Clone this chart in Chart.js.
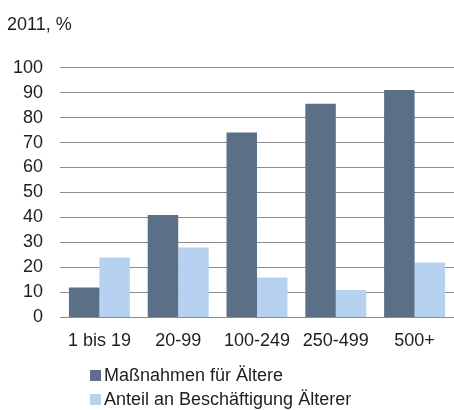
<!DOCTYPE html>
<html>
<head>
<meta charset="utf-8">
<script src="https://cdn.jsdelivr.net/npm/chart.js@4/dist/chart.umd.min.js"></script>
<style>
  html, body { margin: 0; padding: 0; background: #fff; }
  #wrap { position: relative; width: 454px; height: 410px; overflow: hidden; }
  #c { position: absolute; left: 0; top: 0; }
  #legend { position: absolute; left: 90px; top: 363px; font-family: 'Liberation Sans', Arial, sans-serif; font-size: 18px; color: #1e1e1e; }
  #legend .item { display: flex; align-items: center; height: 24px; white-space: nowrap; }
  #legend .sw { width: 11px; height: 11px; margin-right: 3px; }
</style>
</head>
<body>
<div id="wrap">
  <canvas id="c" width="454" height="368"></canvas>
  <div id="legend"></div>
</div>
<script>
const categories = ['1 bis 19', '20-99', '100-249', '250-499', '500+'];
const massnahmen = [12, 41, 74, 85.5, 91];
const anteil = [24, 28, 16, 11, 22];
const seriesNames = ['Maßnahmen für Ältere', 'Anteil an Beschäftigung Älterer'];
const seriesColors = ['#5b7086', '#b6d2f0'];
const yMin = 0, yMax = 100, yStep = 10;

Chart.defaults.font.family = "'Liberation Sans', Arial, sans-serif";
Chart.defaults.font.size = 18;
Chart.defaults.color = '#1e1e1e';

const chart = new Chart(document.getElementById('c'), {
  type: 'bar',
  data: {
    labels: categories,
    datasets: [
      { label: seriesNames[0], data: massnahmen, backgroundColor: seriesColors[0] },
      { label: seriesNames[1], data: anteil, backgroundColor: seriesColors[1] }
    ]
  },
  options: {
    responsive: false,
    animation: false,
    layout: { padding: { left: 7, right: 0, top: 0, bottom: 3 } },
    datasets: { bar: { categoryPercentage: 0.774, barPercentage: 1.0, borderWidth: 0 } },
    plugins: {
      legend: { display: false },
      tooltip: { enabled: false },
      title: {
        display: true,
        text: '2011, %',
        align: 'start',
        font: { size: 18, weight: 'normal' },
        color: '#1e1e1e',
        padding: { top: 14, bottom: 32 }
      }
    },
    scales: {
      x: {
        grid: { display: false, drawTicks: false },
        border: { display: true, color: '#8c8c8c', width: 1 },
        ticks: { padding: 13, maxRotation: 0, autoSkip: false }
      },
      y: {
        min: yMin,
        max: yMax,
        afterFit: (scale) => { scale.width = 53; },
        grid: { color: '#8c8c8c', lineWidth: 1, drawTicks: false },
        border: { display: false },
        ticks: { stepSize: yStep, padding: 17, autoSkip: false }
      }
    }
  }
});

// legend built from the chart's datasets, stacked vertically
const legendEl = document.getElementById('legend');
chart.data.datasets.forEach(ds => {
  const row = document.createElement('div');
  row.className = 'item';
  const sw = document.createElement('span');
  sw.className = 'sw';
  sw.style.background = ds.backgroundColor;
  const txt = document.createElement('span');
  txt.textContent = ds.label;
  row.appendChild(sw);
  row.appendChild(txt);
  legendEl.appendChild(row);
});
</script>
</body>
</html>
